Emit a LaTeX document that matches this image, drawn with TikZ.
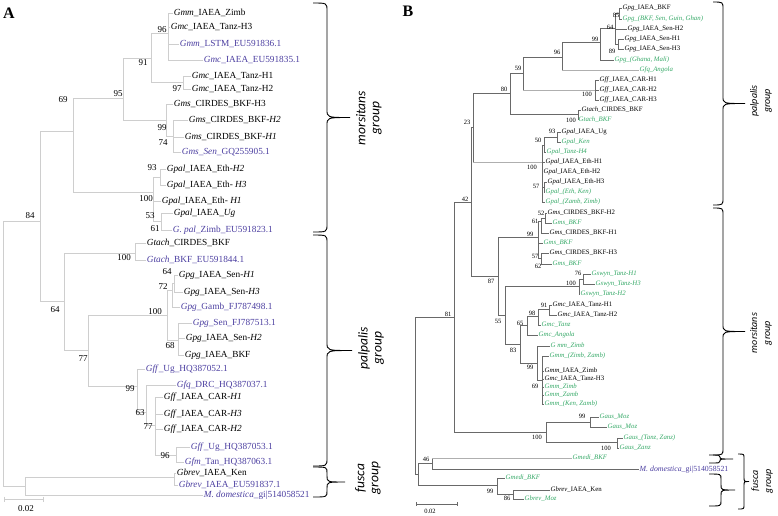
\documentclass[tikz,border=0pt]{standalone}
\usepackage{fontspec}
\setmainfont{Liberation Serif}
\newfontfamily\grpfont{Carlito}
\definecolor{gb}{RGB}{75,62,160}
\definecolor{gg}{RGB}{52,168,102}
\definecolor{la}{RGB}{206,206,206}
\definecolor{db}{RGB}{105,105,105}
\definecolor{lb}{RGB}{175,175,175}
\newcounter{bsn}
\tikzset{
 abr/.style={draw=la, line width=1pt, line cap=square},
 bbr/.style={draw=db, line width=0.7pt, line cap=square},
 bbl/.style={draw=lb, line width=0.7pt, line cap=square},
 labA/.style={anchor=west, inner sep=0.6pt, text height=6.6pt, text depth=2pt, font=\fontsize{9.3}{10}\selectfont},
 labB/.style={anchor=west, inner sep=0.5pt, text height=4.8pt, text depth=1.4pt, font=\fontsize{6.8}{7}\selectfont},
 labBm/.style={anchor=west, inner sep=0.5pt, text height=5.6pt, text depth=1.6pt, font=\fontsize{7.8}{8}\selectfont},
 bsA/.style={inner sep=0pt, font=\fontsize{9}{10}\selectfont},
 bsB/.style={inner sep=0pt, font=\fontsize{6.5}{7}\selectfont},
 grpA/.style={rotate=90, inner sep=0pt, align=center, font=\grpfont\itshape\fontsize{13.5}{14}\selectfont},
 grpB/.style={rotate=90, inner sep=0pt, align=center, font=\grpfont\itshape\fontsize{10}{13}\selectfont},
 brc/.style={draw=black, line width=0.9pt},
}
\newcommand\leafA[6]{\node[labA,text=#6] (#1) at (#2,#3) {#5}; \draw[abr] (#4,#3) -- (#1.west);}
\newcommand\leafB[6]{\node[labB,text=#6] (#1) at (#2,#3) {#5}; \draw[bbr] (#4,#3) -- (#1.west);}
\newcommand\leafBl[6]{\node[labB,text=#6] (#1) at (#2,#3) {#5}; \draw[bbl] (#4,#3) -- (#1.west);}
\newcommand\bA[3]{\stepcounter{bsn}\node[bsA] (bs\arabic{bsn}) at (#1,#2) {#3};}
\newcommand\bB[3]{\stepcounter{bsn}\node[bsB] (bs\arabic{bsn}) at (#1,#2) {#3};}
% brace: x0, y1, y2, straight x, tip x, radius
\newcommand\cbrace[6]{\draw[brc] (#1,#2) .. controls (#4,#2) .. (#4,{#2+#6}) -- (#4,{(#2+#3)/2-#6}) .. controls (#4,{(#2+#3)/2}) .. (#5,{(#2+#3)/2}) .. controls (#4,{(#2+#3)/2}) .. (#4,{(#2+#3)/2+#6}) -- (#4,{#3-#6}) .. controls (#4,#3) .. (#1,#3);}
\begin{document}
\begin{tikzpicture}[x=1pt,y=-1pt]
\useasboundingbox (0,0) rectangle (778,515);
\node[font=\bfseries\fontsize{16}{16}\selectfont, inner sep=0pt] (pA) at (9,13) {A};
\node[font=\bfseries\fontsize{16}{16}\selectfont, inner sep=0pt] (pB) at (408,11) {B};
% ===== Panel A tree =====
\draw[abr] (151,33) -- (168,33) (168,13) -- (168,60);
\draw[abr] (151,82) -- (183,82) (183,76) -- (183,89);
\draw[abr] (123,58) -- (151,58) (151,33) -- (151,82);
\draw[abr] (166,136) -- (173,136) (173,120) -- (173,152);
\draw[abr] (123,120) -- (166,120) (166,104) -- (166,136);
\draw[abr] (73,98) -- (123,98) (123,58) -- (123,120);
\draw[abr] (153,177) -- (160,177) (160,169) -- (160,185);
\draw[abr] (153,221) -- (161,221) (161,213) -- (161,230);
\draw[abr] (73,192) -- (153,192) (153,177) -- (153,221);
\draw[abr] (40,131) -- (73,131) (73,98) -- (73,192);
\draw[abr] (3,221) -- (40,221) (40,131) -- (40,301);
\draw[abr] (64,253) -- (135,253) (135,243) -- (135,260);
\draw[abr] (172,283) -- (174,283) (174,275) -- (174,292);
\draw[abr] (167,290) -- (172,290) (172,283) -- (172,307);
\draw[abr] (167,340) -- (178,340) (178,323) -- (178,355);
\draw[abr] (88,315) -- (167,315) (167,290) -- (167,340);
\draw[abr] (155,455) -- (176,455) (176,447) -- (176,462);
\draw[abr] (146,425) -- (155,425) (155,397) -- (155,455);
\draw[abr] (137,412) -- (146,412) (146,385) -- (146,425);
\draw[abr] (88,386) -- (137,386) (137,369) -- (137,412);
\draw[abr] (64,350) -- (88,350) (88,315) -- (88,386);
\draw[abr] (40,301) -- (64,301) (64,253) -- (64,350);
\draw[abr] (25,477) -- (174,477) (174,473) -- (174,485);
\draw[abr] (3,486) -- (25,486) (25,477) -- (25,495);
\draw[abr] (3,221) -- (3,486);
\leafA{a1}{173}{13}{168}{\textit{Gmm}\_IAEA\_Zimb}{black}
\leafA{a2}{170}{27}{168}{\textit{Gmc}\_IAEA\_Tanz-H3}{black}
\leafA{a3}{179}{44}{168}{\textit{Gmm}\_LSTM\_EU591836.1}{gb}
\leafA{a4}{203}{60}{168}{\textit{Gmc}\_IAEA\_EU591835.1}{gb}
\leafA{a5}{191}{76}{183}{\textit{Gmc}\_IAEA\_Tanz-H1}{black}
\leafA{a6}{191}{89}{183}{\textit{Gmc}\_IAEA\_Tanz-H2}{black}
\leafA{a7}{173}{104}{166}{\textit{Gms}\_CIRDES\_BKF-H3}{black}
\leafA{a8}{188}{120}{173}{\textit{Gms}\_CIRDES\_BKF-\textit{H2}}{black}
\leafA{a9}{184}{137}{173}{\textit{Gms}\_CIRDES\_BKF-\textit{H1}}{black}
\leafA{a10}{181}{152}{173}{\textit{Gms\_Sen}\_GQ255905.1}{gb}
\leafA{a11}{166}{169}{160}{\textit{Gpal}\_IAEA\_Eth-\textit{H2}}{black}
\leafA{a12}{166}{185}{160}{\textit{Gpal}\_IAEA\_Eth- \textit{H3}}{black}
\leafA{a13}{161}{201}{153}{\textit{Gpal}\_IAEA\_Eth- \textit{H1}}{black}
\leafA{a14}{173}{213}{161}{\textit{Gpal}\_IAEA\_\textit{Ug}}{black}
\leafA{a15}{172}{230}{161}{\textit{G. pal}\_Zimb\_EU591823.1}{gb}
\leafA{a16}{146}{243}{135}{\textit{Gtach}\_CIRDES\_BKF}{black}
\leafA{a17}{146}{260}{135}{\textit{Gtach}\_BKF\_EU591844.1}{gb}
\leafA{a18}{178}{275}{174}{\textit{Gpg}\_IAEA\_Sen-\textit{H1}}{black}
\leafA{a19}{183}{292}{174}{\textit{Gpg}\_IAEA\_Sen-\textit{H3}}{black}
\leafA{a20}{180}{307}{172}{\textit{Gpg}\_Gamb\_FJ787498.1}{gb}
\leafA{a21}{192}{323}{178}{\textit{Gpg}\_Sen\_FJ787513.1}{gb}
\leafA{a22}{185}{338}{178}{\textit{Gpg}\_IAEA\_Sen-\textit{H2}}{black}
\leafA{a23}{184}{355}{178}{\textit{Gpg}\_IAEA\_BKF}{black}
\leafA{a24}{145}{369}{137}{\textit{Gff}\_Ug\_HQ387052.1}{gb}
\leafA{a25}{176}{385}{146}{\textit{Gfq}\_DRC\_HQ387037.1}{gb}
\leafA{a26}{163}{397}{155}{\textit{Gff}\_IAEA\_CAR-\textit{H1}}{black}
\leafA{a27}{163}{414}{155}{\textit{Gff}\_IAEA\_CAR-\textit{H3}}{black}
\leafA{a28}{163}{429}{155}{\textit{Gff}\_IAEA\_CAR-\textit{H2}}{black}
\leafA{a29}{190}{447}{176}{\textit{Gff}\_Ug\_HQ387053.1}{gb}
\leafA{a30}{184}{462}{176}{\textit{Gfm}\_Tan\_HQ387063.1}{gb}
\leafA{a31}{176}{473}{174}{\textit{Gbrev}\_IAEA\_Ken}{black}
\leafA{a32}{178}{485}{174}{\textit{Gbrev}\_IAEA\_EU591837.1}{gb}
\leafA{a33}{203}{495}{25}{\textit{M. domestica}\_gi|514058521}{gb}
\bA{162}{30}{96} \bA{143}{63}{91} \bA{177}{89}{97} \bA{118}{94}{95}
\bA{162}{128}{99} \bA{163}{143}{74} \bA{63}{100}{69} \bA{152}{168}{93}
\bA{146}{199}{100} \bA{150}{216}{53} \bA{155}{229}{61} \bA{30}{216}{84}
\bA{124}{258}{100} \bA{167}{272}{64} \bA{163}{287}{72} \bA{155}{312}{100}
\bA{170}{346}{68} \bA{55}{310}{64} \bA{83}{359}{77} \bA{130}{389}{99}
\bA{140}{413}{63} \bA{148}{427}{77} \bA{165}{456}{96}
\coordinate (sa1) at (4,499); \coordinate (sa2) at (43,499);
\draw[abr] (sa1) -- (sa2) (sa1) ++(0,-2.5) -- ++(0,5) (sa2) ++(0,-2.5) -- ++(0,5);
\node[bsA] (sal) at (26,509) {0.02};
\cbrace{313}{3}{232}{327}{350}{8}
\cbrace{313}{235}{466}{327}{352}{8}
\cbrace{313}{467}{497}{327}{345}{6}
\node[grpA] (gAm) at (369,118) {morsitans\\group};
\node[grpA] (gAp) at (371,348) {palpalis\\group};
\node[grpA] (gAf) at (368,478) {fusca\\group};
% ===== Panel B tree =====
\draw[bbr] (615,13) -- (619,13) (619,8) -- (619,19);
\draw[bbr] (615,44) -- (618,44) (618,39) -- (618,49);
\draw[bbr] (600,28) -- (615,28) (615,13) -- (615,44);
\draw[bbr] (562,42) -- (600,42) (600,28) -- (600,60);
\draw[bbr] (523,57) -- (562,57) (562,42) -- (562,70);
\draw[bbl] (523,90) -- (595,90); \draw[bbr] (595,80) -- (595,100);
\draw[bbr] (510,73) -- (523,73) (523,57) -- (523,90);
\draw[bbr] (510,114) -- (578,114) (578,110) -- (578,120);
\draw[bbr] (473,93) -- (510,93) (510,73) -- (510,114);
\draw[bbr] (544,137) -- (557,137) (557,132) -- (557,142);
\draw[bbr] (542,145) -- (544,145) (544,137) -- (544,152);
\draw[bbr] (542,187) -- (544,187) (544,182) -- (544,192);
\draw[bbl] (473,162) -- (542,162); \draw[bbr] (542,145) -- (542,202);
\draw[bbr] (471,127) -- (473,127) (473,93) -- (473,162);
\draw[bbr] (541,218) -- (545,218) (545,213) -- (545,223);
\draw[bbr] (538,221) -- (541,221) (541,218) -- (541,233);
\draw[bbr] (538,258) -- (541,258) (541,253) -- (541,264);
\draw[bbr] (498,237) -- (538,237) (538,221) -- (538,258);
\draw[bbr] (579,279) -- (583,279) (583,274) -- (583,284);
\draw[bbr] (505,286) -- (579,286) (579,279) -- (579,294);
\draw[bbr] (538,309) -- (549,309) (549,305) -- (549,315);
\draw[bbr] (527,316) -- (538,316) (538,309) -- (538,325);
\draw[bbr] (520,325) -- (527,325) (527,316) -- (527,335);
\draw[bbr] (537,380) -- (542,380) (542,356) -- (542,404);
\draw[bbr] (520,363) -- (537,363) (537,346) -- (537,380);
\draw[bbr] (505,344) -- (520,344) (520,325) -- (520,363);
\draw[bbr] (498,315) -- (505,315) (505,286) -- (505,344);
\draw[bbr] (471,276) -- (498,276) (498,237) -- (498,315);
\draw[bbr] (454,202) -- (471,202) (471,127) -- (471,276);
\draw[bbr] (546,422) -- (590,422) (590,417) -- (590,427);
\draw[bbr] (546,442) -- (617,442) (617,438) -- (617,448);
\draw[bbr] (454,432) -- (546,432) (546,422) -- (546,442);
\draw[bbr] (415,317) -- (454,317) (454,202) -- (454,432);
\draw[bbr] (418,463) -- (432,463) (432,458) -- (432,469);
\draw[bbr] (497,494) -- (513,494) (513,490) -- (513,499);
\draw[bbr] (418,485) -- (497,485) (497,478) -- (497,494);
\draw[bbr] (415,474) -- (418,474) (418,463) -- (418,485);
\draw[bbr] (415,317) -- (415,474);
\leafB{b1}{622}{8}{619}{\textit{Gpg}\_IAEA\_BKF}{black}
\leafB{b2}{622}{19}{619}{\textit{Gpg\_(BKF, Sen, Guin, Ghan)}}{gg}
\leafB{b3}{627}{29}{615}{\textit{Gpg}\_IAEA\_Sen-H2}{black}
\leafB{b4}{624}{39}{618}{\textit{Gpg}\_IAEA\_Sen-H1}{black}
\leafB{b5}{624}{49}{618}{\textit{Gpg}\_IAEA\_Sen-H3}{black}
\leafB{b6}{614}{60}{600}{\textit{Gpg\_(Ghana, Mali)}}{gg}
\leafBl{b7}{639}{70}{562}{\textit{Gfq\_Angola}}{gg}
\leafB{b8}{599}{80}{595}{\textit{Gff}\_IAEA\_CAR-H1}{black}
\leafB{b9}{599}{90}{595}{\textit{Gff}\_IAEA\_CAR-H2}{black}
\leafB{b10}{599}{100}{595}{\textit{Gff}\_IAEA\_CAR-H3}{black}
\leafB{b11}{581}{110}{578}{\textit{Gtach}\_CIRDES\_BKF}{black}
\leafB{b12}{578}{120}{578}{\textit{Gtach\_BKF}}{gg}
\leafB{b13}{561}{132}{557}{\textit{Gpal}\_IAEA\_Ug}{black}
\leafB{b14}{561}{142}{557}{\textit{Gpal\_Ken}}{gg}
\leafB{b15}{546}{152}{544}{\textit{Gpal\_Tanz-H4}}{gg}
\leafB{b16}{545}{162}{542}{\textit{Gpal}\_IAEA\_Eth-H1}{black}
\leafB{b17}{543}{172}{542}{\textit{Gpal}\_IAEA\_Eth-H2}{black}
\leafB{b18}{547}{182}{544}{\textit{Gpal}\_IAEA\_Eth-H3}{black}
\leafB{b19}{545}{192}{544}{\textit{Gpal\_(Eth, Ken)}}{gg}
\leafB{b20}{545}{202}{542}{\textit{Gpal\_(Zamb, Zimb)}}{gg}
\leafB{b21}{547}{213}{545}{\textit{Gms}\_CIRDES\_BKF-H2}{black}
\leafB{b22}{552}{223}{545}{\textit{Gms\_BKF}}{gg}
\leafB{b23}{549}{233}{541}{\textit{Gms}\_CIRDES\_BKF-H1}{black}
\leafB{b24}{543}{243}{538}{\textit{Gms\_BKF}}{gg}
\leafB{b25}{549}{253}{541}{\textit{Gms}\_CIRDES\_BKF-H3}{black}
\leafB{b26}{552}{264}{541}{\textit{Gms\_BKF}}{gg}
\leafB{b27}{591}{274}{583}{\textit{Gswyn\_Tanz-H1}}{gg}
\leafB{b28}{595}{284}{583}{\textit{Gswyn\_Tanz-H3}}{gg}
\leafB{b29}{580}{294}{579}{\textit{Gswyn\_Tanz-H2}}{gg}
\leafB{b30}{552}{305}{549}{\textit{Gmc}\_IAEA\_Tanz-H1}{black}
\leafB{b31}{557}{315}{549}{\textit{Gmc}\_IAEA\_Tanz-H2}{black}
\leafB{b32}{541}{325}{538}{\textit{Gmc\_Tanz}}{gg}
\leafB{b33}{538}{335}{527}{\textit{Gmc\_Angola}}{gg}
\leafB{b34}{550}{346}{537}{\textit{G mm\_Zimb}}{gg}
\leafB{b35}{549}{356}{542}{\textit{Gmm\_(Zimb, Zamb)}}{gg}
\leafB{b36}{544}{371}{542}{\textit{Gmm}\_IAEA\_Zimb}{black}
\leafB{b37}{544}{379}{542}{\textit{Gmc}\_IAEA\_Tanz-H3}{black}
\leafB{b38}{544}{387}{542}{\textit{Gmm\_Zimb}}{gg}
\leafB{b39}{544}{395}{542}{\textit{Gmm\_Zamb}}{gg}
\leafB{b40}{544}{404}{542}{\textit{Gmm\_(Ken, Zamb)}}{gg}
\leafB{b41}{599}{417}{590}{\textit{Gaus\_Moz}}{gg}
\leafB{b42}{607}{427}{590}{\textit{Gaus\_Moz}}{gg}
\leafB{b43}{623}{438}{617}{\textit{Gaus\_(Tanz, Zanz)}}{gg}
\leafB{b44}{619}{448}{617}{\textit{Gaus\_Zanz}}{gg}
\leafBl{b45}{572}{458}{432}{\textit{Gmedi\_BKF}}{gg}
\node[labBm,text=gb] (b46) at (639,469) {\textit{M. domestica}\_gi|514058521}; \draw[bbr] (432,469) -- (b46.west);
\leafB{b47}{505}{478}{497}{\textit{Gmedi\_BKF}}{gg}
\leafB{b48}{550}{490}{513}{\textit{Gbrev}\_IAEA\_Ken}{black}
\leafB{b49}{524}{499}{513}{\textit{Gbrev\_Moz}}{gg}
\bB{616}{15}{85} \bB{610}{27}{64} \bB{612}{51}{89} \bB{595}{39}{99}
\bB{557}{52}{96} \bB{587}{94}{100} \bB{518}{68}{59} \bB{571}{120}{100}
\bB{504}{89}{80} \bB{552}{131}{93} \bB{538}{140}{50} \bB{532}{167}{100}
\bB{536}{186}{57} \bB{467}{122}{23} \bB{541}{213}{52} \bB{535}{221}{61}
\bB{530}{234}{99} \bB{535}{256}{57} \bB{538}{266}{62} \bB{578}{273}{76}
\bB{571}{283}{100} \bB{491}{281}{87} \bB{544}{305}{91} \bB{532}{313}{98}
\bB{520}{323}{65} \bB{498}{321}{55} \bB{513}{350}{83} \bB{530}{367}{99}
\bB{535}{386}{69} \bB{465}{199}{42} \bB{448}{314}{81} \bB{582}{416}{99}
\bB{606}{448}{100} \bB{537}{437}{100} \bB{426}{459}{46} \bB{490}{491}{99}
\bB{507}{498}{86}
\coordinate (sb1) at (416,504); \coordinate (sb2) at (457,504);
\draw[bbr] (sb1) -- (sb2) (sb1) ++(0,-2) -- ++(0,4) (sb2) ++(0,-2) -- ++(0,4);
\node[bsB] (sbl) at (430,511) {0.02};
\cbrace{713}{2}{205}{723}{745}{7}
\cbrace{713}{208}{455}{723}{745}{7}
\cbrace{709}{455}{463}{720}{733}{2}
\cbrace{709}{474}{506}{721}{735}{5}
\cbrace{738}{454}{509}{744}{749}{4}
\node[grpB] (gBp) at (761,101) {palpalis\\group};
\node[grpB] (gBm) at (761,333) {morsitans\\group};
\node[grpB] (gBf) at (762,481) {fusca\\group};
\end{tikzpicture}
\end{document}
